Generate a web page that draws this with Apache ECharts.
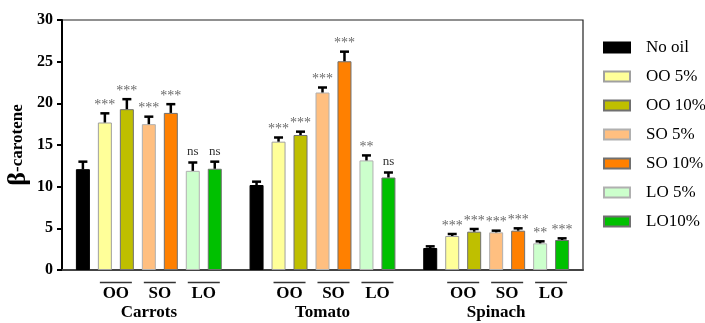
<!DOCTYPE html>
<html><head><meta charset="utf-8">
<script src="https://cdn.jsdelivr.net/npm/echarts@6/dist/echarts.min.js"></script>
<style>html,body{margin:0;padding:0;background:#fff}#c{width:705px;height:323px}</style>
</head><body><div id="c"></div>
<script>
const categories = ['Carrots', 'Tomato', 'Spinach'];
const seriesNames = ['No oil', 'OO 5%', 'OO 10%', 'SO 5%', 'SO 10%', 'LO 5%', 'LO10%'];
const yTicks = [0, 5, 10, 15, 20, 25, 30];

const noOil = [12.1, 10.2, 2.64];
const oo5 = [17.7, 15.4, 4.08];
const oo10 = [19.3, 16.2, 4.6];
const so5 = [17.5, 21.3, 4.52];
const so10 = [18.85, 25.05, 4.72];
const lo5 = [11.9, 13.15, 3.2];
const lo10 = [12.15, 11.1, 3.6];

const noOilErr = [0.9, 0.4, 0.2];
const oo5Err = [1.1, 0.5, 0.24];
const oo10Err = [1.2, 0.4, 0.32];
const so5Err = [0.9, 0.6, 0.2];
const so10Err = [1.05, 1.15, 0.28];
const lo5Err = [1.0, 0.6, 0.24];
const lo10Err = [0.85, 0.6, 0.2];

const noOilSig = ['', '', ''];
const oo5Sig = ['***', '***', '***'];
const oo10Sig = ['***', '***', '***'];
const so5Sig = ['***', '***', '***'];
const so10Sig = ['***', '***', '***'];
const lo5Sig = ['ns', '**', '**'];
const lo10Sig = ['ns', 'ns', '***'];

const subGroupNames = ['OO', 'SO', 'LO'];
const subGroupPairs = [[1, 2], [3, 4], [5, 6]];

const values = [noOil, oo5, oo10, so5, so10, lo5, lo10];
const errors = [noOilErr, oo5Err, oo10Err, so5Err, so10Err, lo5Err, lo10Err];
const sigs = [noOilSig, oo5Sig, oo10Sig, so5Sig, so10Sig, lo5Sig, lo10Sig];
const colors = ['#000000', '#FFFF99', '#BFBF00', '#FFBF80', '#FF8000', '#CCFFCC', '#00C000'];
const borders = ['#000000', '#a0a0a0', '#707070', '#b0b0b0', '#707070', '#b0b0b0', '#707070'];

const BW = 14, GAP = 0.57;
const N = seriesNames.length;
function offsetOf(j) {
  const pitch = BW * (1 + GAP);
  const total = N * BW + (N - 1) * BW * GAP;
  return -total / 2 + BW / 2 + j * pitch;
}
const serif = '"Liberation Serif","Times New Roman",serif';

const series = [];
for (let j = 0; j < N; j++) {
  series.push({
    type: 'bar', name: seriesNames[j], data: values[j],
    barWidth: BW, barGap: (GAP * 100) + '%',
    itemStyle: { color: colors[j], borderColor: borders[j], borderWidth: 1 },
    z: 2
  });
}
const errData = [];
for (let j = 0; j < N; j++) for (let i = 0; i < categories.length; i++) {
  errData.push([i, values[j][i], values[j][i] + errors[j][i], j, sigs[j][i]]);
}
series.push({
  type: 'custom', name: 'err', z: 5, silent: true,
  data: errData,
  encode: { x: 0, y: 2 },
  renderItem: function (params, api) {
    const i = api.value(0), j = api.value(3);
    const sig = errData[params.dataIndex][4];
    const pb = api.coord([i, api.value(1)]);
    const pt = api.coord([i, api.value(2)]);
    const x = pb[0] + offsetOf(j);
    const children = [
      { type: 'line', shape: { x1: x, y1: pb[1], x2: x, y2: pt[1] }, style: { stroke: '#000', lineWidth: 2.5 } },
      { type: 'line', shape: { x1: x - 4.5, y1: pt[1], x2: x + 4.5, y2: pt[1] }, style: { stroke: '#000', lineWidth: 2.5 } }
    ];
    if (sig) {
      const isStar = sig.indexOf('*') >= 0;
      children.push({
        type: 'text',
        style: {
          text: sig, x: x, y: pt[1] - (isStar ? 1 : 4),
          align: 'center', verticalAlign: 'bottom',
          fill: isStar ? '#6a6a6a' : '#333',
          font: (isStar ? '14px ' : '13px ') + serif
        }
      });
    }
    return { type: 'group', children: children };
  }
});
series.push({
  type: 'custom', name: 'sub', z: 5, silent: true,
  data: categories.map((c, i) => [i, 0]),
  renderItem: function (params, api) {
    const i = api.value(0);
    const p = api.coord([i, 0]);
    const children = [];
    subGroupPairs.forEach((pair, k) => {
      const cx = p[0] + (offsetOf(pair[0]) + offsetOf(pair[1])) / 2;
      children.push({ type: 'line', shape: { x1: cx - 16, y1: p[1] + 12.5, x2: cx + 16, y2: p[1] + 12.5 }, style: { stroke: '#333', lineWidth: 1.5 } });
      children.push({ type: 'text', style: { text: subGroupNames[k], x: cx, y: p[1] + 23.5, align: 'center', verticalAlign: 'middle', fill: '#000', font: 'bold 17px ' + serif } });
    });
    return { type: 'group', children: children };
  }
});

const chart = echarts.init(document.getElementById('c'), null, { renderer: 'canvas' });
chart.setOption({
  animation: false,
  backgroundColor: '#fff',
  grid: { left: 62, right: 122, top: 20, bottom: 53, show: true, borderColor: '#222', borderWidth: 1.2,
    containLabel: false, outerBoundsMode: 'none' },
  legend: {
    data: seriesNames, orient: 'vertical', left: 603, top: 39, padding: 0,
    itemWidth: 26, itemHeight: 10, itemGap: 12, icon: 'rect',
    textStyle: { fontFamily: serif, fontSize: 17, color: '#000', padding: [0, 0, 0, 11] }
  },
  xAxis: {
    type: 'category', data: categories,
    axisLine: { lineStyle: { color: '#444', width: 2 } },
    axisTick: { show: false },
    axisLabel: { margin: 34, fontFamily: serif, fontWeight: 'bold', fontSize: 17, color: '#000' }
  },
  yAxis: {
    type: 'value', min: 0, max: 30, interval: 5,
    name: '{b|β}-carotene', nameLocation: 'middle', nameGap: 31, nameRotate: 90, nameMoveOverlap: false,
    nameTextStyle: { fontFamily: serif, fontWeight: 'bold', fontSize: 17, color: '#000',
      rich: { b: { fontFamily: serif, fontWeight: 'bold', fontSize: 26, color: '#000' } } },
    axisLine: { show: true, lineStyle: { color: '#000', width: 2 } },
    axisTick: { show: true, length: 5, lineStyle: { color: '#000', width: 2 } },
    splitLine: { show: false },
    axisLabel: { margin: 9, fontFamily: serif, fontWeight: 'bold', fontSize: 16, color: '#000' }
  },
  series: series
});
</script></body></html>
